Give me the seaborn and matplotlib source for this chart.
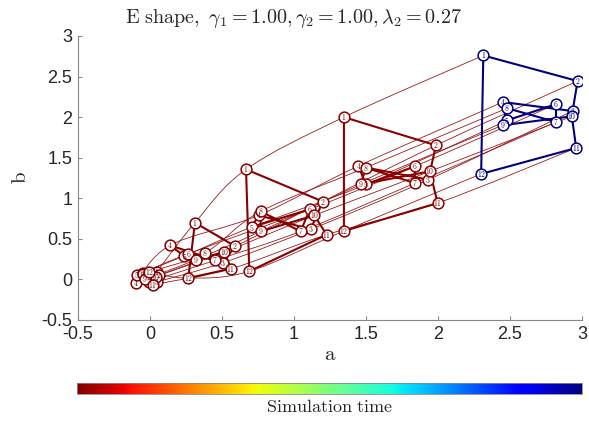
import numpy as np
import pandas as pd
import seaborn as sns
import matplotlib
matplotlib.use("Agg")
import matplotlib.pyplot as plt
from matplotlib.path import Path
from matplotlib.patches import PathPatch
from matplotlib.cm import ScalarMappable

# snapshot shapes (12 points each)
A_X = [0.046, 0.06, 0.05, -0.10, -0.09, -0.05, -0.01, -0.045, -0.035, 0.04, 0.02, -0.005]
A_Y = [0.09, 0.05, -0.03, -0.04, 0.06, 0.08, -0.03, 0.07, 0.0, 0.035, -0.065, 0.09]
B_X = [0.3125, 0.59, 0.509, 0.139, 0.238, 0.266, 0.451, 0.382, 0.319, 0.516, 0.5625, 0.266]
B_Y = [0.699, 0.41, 0.206, 0.419, 0.288, 0.317, 0.234, 0.329, 0.243, 0.337, 0.132, 0.016]
C_X = [0.667, 1.20, 1.116, 0.755, 0.706, 1.11, 1.046, 0.769, 0.769, 1.141, 1.227, 0.69]
C_Y = [1.356, 0.96, 0.616, 0.79, 0.645, 0.863, 0.592, 0.838, 0.592, 0.789, 0.551, 0.10]
D_X = [1.347, 1.986, 1.933, 1.447, 1.50, 1.84, 1.84, 1.498, 1.465, 1.944, 1.998, 1.347]
D_Y = [2.00, 1.652, 1.229, 1.397, 1.171, 1.393, 1.187, 1.377, 1.171, 1.332, 0.941, 0.596]
E_X = [2.315, 2.97, 2.935, 2.45, 2.48, 2.82, 2.82, 2.48, 2.45, 2.93, 2.96, 2.30]
E_Y = [2.76, 2.445, 2.075, 2.186, 1.96, 2.16, 1.94, 2.11, 1.90, 2.01, 1.62, 1.30]

SNAP_TIMES = [0.0, 0.005, 0.01, 0.015, 1.0]
TICKS = [-0.5, 0, 0.5, 1, 1.5, 2, 2.5, 3]
TICK_LABELS = ["-0.5", "0", "0.5", "1", "1.5", "2", "2.5", "3"]

shapes = [(A_X, A_Y), (B_X, B_Y), (C_X, C_Y), (D_X, D_Y), (E_X, E_Y)]
cmap = plt.get_cmap("jet_r")
colors = [cmap(t) for t in SNAP_TIMES]

sns.set_style("ticks")
plt.rcParams['font.family'] = ['Liberation Sans', 'DejaVu Sans']
plt.rcParams['mathtext.fontset'] = 'cm'
plt.rcParams['axes.unicode_minus'] = False

fig = plt.figure(figsize=(5.89, 4.21), dpi=100)
ax = fig.add_axes([0.1324, 0.240, 0.8556, 0.6745])

# trajectories: smooth curve through point i of every snapshot
traj_col = "#9b1c1c"
for i in range(12):
    pts = np.array([[s[0][i], s[1][i]] for s in shapes])
    n = len(pts)
    verts = [pts[0]]
    codes = [Path.MOVETO]
    for k in range(n - 1):
        p0 = pts[max(k - 1, 0)]
        p1 = pts[k]
        p2 = pts[k + 1]
        p3 = pts[min(k + 2, n - 1)]
        verts += [p1 + (p2 - p0) / 6, p2 - (p3 - p1) / 6, p2]
        codes += [Path.CURVE4] * 3
    ax.add_patch(PathPatch(Path(verts, codes), fc="none", ec=traj_col, lw=0.6, zorder=1))

# shape outlines
rows = []
for k, (xs, ys) in enumerate(shapes):
    for j in list(range(12)) + [0]:
        rows.append({"a": xs[j], "b": ys[j], "snap": k})
df = pd.DataFrame(rows)
sns.lineplot(data=df, x="a", y="b", hue="snap", palette=colors, estimator=None,
             sort=False, lw=1.5, legend=False, ax=ax, zorder=2)

for k, (xs, ys) in enumerate(shapes):
    sns.scatterplot(x=xs, y=ys, s=60, color="white", edgecolor=colors[k],
                    linewidth=1.1, ax=ax, zorder=3)
    for j in range(12):
        ax.text(xs[j], ys[j], "$%d$" % (j + 1), ha="center", va="center",
                fontsize=5.5, color=colors[k], zorder=4)

ax.set_xlim(-0.5, 3)
ax.set_ylim(-0.5, 3)
ax.set_xticks(TICKS)
ax.set_xticklabels(TICK_LABELS)
ax.set_yticks(TICKS)
ax.set_yticklabels(TICK_LABELS)
ax.tick_params(direction="in", length=3, color="#888888", labelsize=13,
               labelcolor="#262626", pad=4)
sns.despine(ax=ax)
for s in ["left", "bottom"]:
    ax.spines[s].set_color("#888888")
    ax.spines[s].set_linewidth(0.8)
ax.set_xlabel(r"$\mathrm{a}$", fontsize=15, labelpad=2)
ax.set_ylabel(r"$\mathrm{b}$", fontsize=15, labelpad=8, rotation=90)
fig.text(293 / 589, 1 - 18 / 421,
         r"$\mathrm{E\ shape,}\ \gamma_1 = 1.00, \gamma_2 = 1.00, \lambda_2 = 0.27$",
         fontsize=14.5, ha="center", va="center")

cax = fig.add_axes([0.1307, 0.063, 0.857, 0.0273])
sm = ScalarMappable(cmap=cmap)
cb = fig.colorbar(sm, cax=cax, orientation="horizontal", ticks=[])
cb.outline.set_edgecolor("#888888")
cb.outline.set_linewidth(0.6)
cax.set_xlabel(r"$\mathrm{Simulation\ time}$", fontsize=13, labelpad=3)

fig.savefig("out.png", dpi=100)
